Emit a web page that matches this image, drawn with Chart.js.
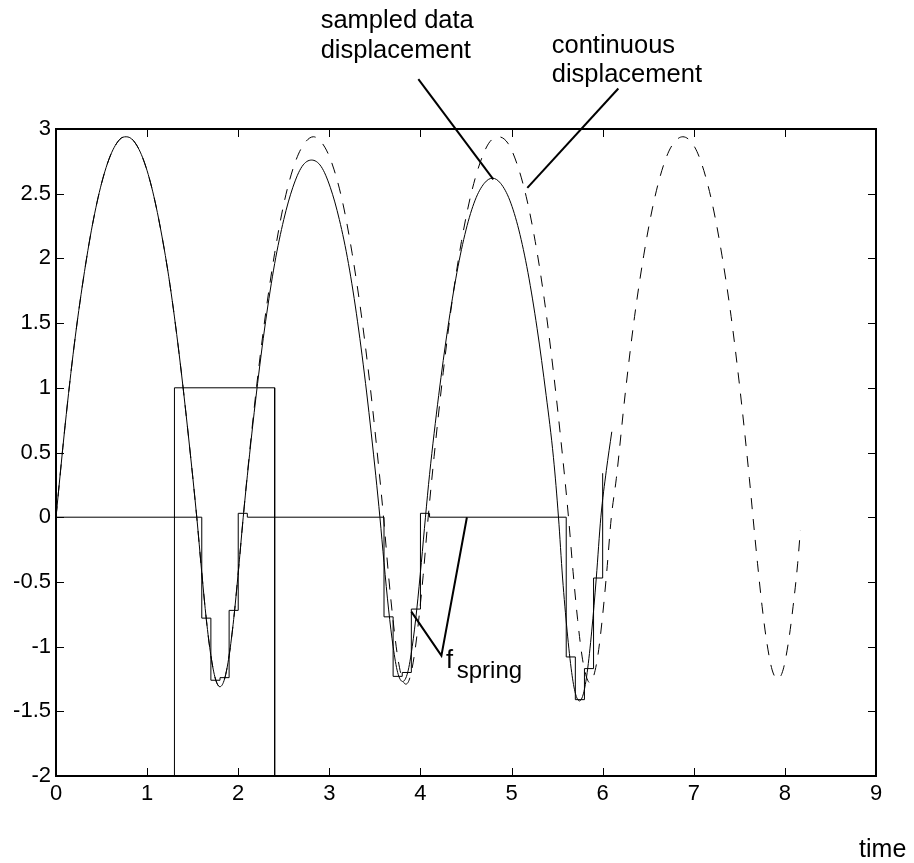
<!DOCTYPE html>
<html>
<head>
<meta charset="utf-8">
<script src="https://cdn.jsdelivr.net/npm/chart.js@4.4.1/dist/chart.umd.min.js"></script>
<style>
  html, body { margin: 0; padding: 0; background: #fff; }
  #wrap { width: 914px; height: 863px; }
</style>
</head>
<body>
<div id="wrap"><canvas id="bounce" width="914" height="863"></canvas></div>
<script>
// axis ranges
const xMin = 0, xMax = 9, xStep = 1;
const yMin = -2, yMax = 3, yStep = 0.5;

// continuous displacement (dashed)
const contT = [0, 0.1, 0.2, 0.3, 0.4, 0.5, 0.6, 0.7, 0.77, 0.85, 0.95, 1.05, 1.15, 1.25, 1.35, 1.45, 1.545,
  1.6, 1.65, 1.7, 1.75, 1.8, 1.85, 1.9, 1.95, 2.0, 2.055,
  2.1, 2.2, 2.3, 2.4, 2.5, 2.6, 2.7, 2.825, 2.95, 3.05, 3.15, 3.25, 3.35, 3.45, 3.55, 3.595,
  3.65, 3.7, 3.75, 3.8, 3.84, 3.88, 3.93, 3.98, 4.03, 4.085,
  4.15, 4.25, 4.35, 4.45, 4.55, 4.65, 4.75, 4.855, 4.96, 5.06, 5.16, 5.26, 5.36, 5.46, 5.56, 5.625,
  5.675, 5.725, 5.775, 5.82, 5.86, 5.9, 5.945, 5.995, 6.045, 6.095,
  6.15, 6.25, 6.35, 6.45, 6.55, 6.65, 6.75, 6.88, 7.01, 7.11, 7.21, 7.31, 7.41, 7.51, 7.61, 7.65,
  7.7, 7.75, 7.8, 7.86, 7.92, 7.98, 8.04, 8.09, 8.14, 8.17];
const contY = [0, 0.71, 1.33, 1.84, 2.26, 2.58, 2.80, 2.92, 2.94, 2.91, 2.78, 2.55, 2.22, 1.80, 1.27, 0.65, 0,
  -0.43, -0.79, -1.07, -1.25, -1.31, -1.25, -1.07, -0.79, -0.43, 0,
  0.33, 1.00, 1.57, 2.04, 2.42, 2.69, 2.86, 2.94, 2.86, 2.69, 2.42, 2.04, 1.57, 1.00, 0.33, 0,
  -0.45, -0.80, -1.08, -1.25, -1.29, -1.25, -1.08, -0.80, -0.45, 0,
  0.47, 1.12, 1.68, 2.13, 2.48, 2.73, 2.89, 2.94, 2.89, 2.73, 2.48, 2.13, 1.68, 1.12, 0.47, 0,
  -0.42, -0.79, -1.08, -1.23, -1.28, -1.23, -1.08, -0.79, -0.42, 0,
  0.30, 0.97, 1.55, 2.02, 2.40, 2.68, 2.86, 2.94, 2.86, 2.68, 2.40, 2.02, 1.55, 0.97, 0.30, 0,
  -0.36, -0.69, -0.96, -1.18, -1.25, -1.18, -0.96, -0.69, -0.36, -0.1];

// sampled data displacement (solid)
const sampT = [0, 0.1, 0.2, 0.3, 0.4, 0.5, 0.6, 0.7, 0.77, 0.85, 0.95, 1.05, 1.15, 1.25, 1.35, 1.45, 1.545,
  1.6, 1.65, 1.7, 1.75, 1.8, 1.85, 1.9, 1.95, 2.0, 2.055,
  2.1, 2.2, 2.3, 2.4, 2.5, 2.6, 2.7, 2.805, 2.91, 3.01, 3.11, 3.21, 3.31, 3.41, 3.51, 3.555,
  3.6, 3.65, 3.7, 3.75, 3.805, 3.86, 3.91, 3.96, 4.01, 4.055,
  4.1, 4.2, 4.3, 4.4, 4.5, 4.6, 4.7, 4.79, 4.88, 4.98, 5.08, 5.18, 5.28, 5.38, 5.46, 5.515,
  5.56, 5.61, 5.66, 5.70, 5.745, 5.79, 5.83, 5.88, 5.93, 5.98, 6.04, 6.10];
const sampY = [0, 0.71, 1.33, 1.84, 2.26, 2.58, 2.80, 2.92, 2.94, 2.91, 2.78, 2.55, 2.22, 1.80, 1.27, 0.65, 0,
  -0.43, -0.79, -1.07, -1.25, -1.31, -1.25, -1.07, -0.79, -0.43, 0,
  0.32, 0.96, 1.51, 1.96, 2.30, 2.55, 2.71, 2.76, 2.71, 2.55, 2.30, 1.96, 1.51, 0.96, 0.32, 0,
  -0.35, -0.71, -1.00, -1.20, -1.27, -1.20, -1.00, -0.71, -0.35, 0,
  0.33, 0.94, 1.46, 1.89, 2.22, 2.45, 2.58, 2.62, 2.58, 2.45, 2.22, 1.89, 1.46, 0.94, 0.46, 0,
  -0.47, -0.88, -1.20, -1.36, -1.42, -1.36, -1.20, -0.88, -0.47, 0, 0.36, 0.66];

// sampled spring force (zero-order hold, T = 0.1)
const springT = [0, 1.6, 1.7, 1.8, 1.9, 2.0, 2.1, 3.6, 3.7, 3.8, 3.9, 4.0, 4.1, 5.6, 5.7, 5.8, 5.9, 6.0];
const springF = [0, -0.78, -1.26, -1.24, -0.72, 0.03, 0, -0.77, -1.23, -1.20, -0.71, 0.03, 0, -1.08, -1.41, -1.17, -0.47, 0.34];

// rectangular pulse
const pulseT = [1.3, 1.3, 2.4, 2.4];
const pulseY = [-2, 1, 1, -2];

const xTicks = [0, 1, 2, 3, 4, 5, 6, 7, 8, 9];
const yTicks = ['-2', '-1.5', '-1', '-0.5', '0', '0.5', '1', '1.5', '2', '2.5', '3'];

const pts = (xs, ys) => xs.map((v, i) => ({ x: v, y: ys[i] }));

const FONT = '"Liberation Sans", Arial, Helvetica, sans-serif';

// box around the axes with inward ticks on all four sides
const frameBox = {
  id: 'frameBox',
  afterDatasetsDraw(chart) {
    const { ctx, chartArea: a, scales: { x, y } } = chart;
    ctx.save();
    ctx.strokeStyle = '#000';
    ctx.lineWidth = 1;
    ctx.beginPath();
    x.ticks.forEach(t => {
      if (t.value <= xMin || t.value >= xMax) return;
      const px = Math.round(x.getPixelForValue(t.value)) + 0.5;
      ctx.moveTo(px, a.bottom); ctx.lineTo(px, a.bottom - 8);
      ctx.moveTo(px, a.top); ctx.lineTo(px, a.top + 8);
    });
    y.ticks.forEach(t => {
      if (t.value <= yMin || t.value >= yMax) return;
      const py = Math.round(y.getPixelForValue(t.value)) + 0.5;
      ctx.moveTo(a.left, py); ctx.lineTo(a.left + 8, py);
      ctx.moveTo(a.right, py); ctx.lineTo(a.right - 8, py);
    });
    ctx.stroke();
    ctx.lineWidth = 2;
    ctx.strokeRect(a.left, a.top, a.right - a.left, a.bottom - a.top);
    ctx.restore();
  }
};

// text labels and leader lines, placed in data units
const callouts = {
  id: 'callouts',
  afterDraw(chart) {
    const { ctx, scales: { x, y } } = chart;
    const X = v => x.getPixelForValue(v);
    const Y = v => y.getPixelForValue(v);
    ctx.save();
    ctx.strokeStyle = '#000';
    ctx.fillStyle = '#000';
    ctx.lineWidth = 2;
    const leader = list => {
      ctx.beginPath();
      list.forEach((p, i) => i ? ctx.lineTo(X(p[0]), Y(p[1])) : ctx.moveTo(X(p[0]), Y(p[1])));
      ctx.stroke();
    };
    leader([[3.977, 3.385], [4.80, 2.61]]);
    leader([[6.172, 3.313], [5.173, 2.545]]);
    leader([[3.90, -0.73], [4.23, -1.07], [4.51, 0.0]]);

    ctx.textAlign = 'left';
    ctx.textBaseline = 'alphabetic';
    ctx.font = '25.5px ' + FONT;
    ctx.fillText('sampled data', X(2.905), Y(3.777));
    ctx.fillText('displacement', X(2.905), Y(3.545));
    ctx.fillText('continuous', X(5.441), Y(3.588));
    ctx.fillText('displacement', X(5.441), Y(3.364));
    ctx.fillText('f', X(4.281), Y(-1.169));
    ctx.font = '24px ' + FONT;
    ctx.fillText('spring', X(4.398), Y(-1.244));
    ctx.font = '25px ' + FONT;
    ctx.fillText('time', X(8.814), Y(-2.625));
    ctx.restore();
  }
};

new Chart(document.getElementById('bounce'), {
  type: 'line',
  data: {
    datasets: [
      { data: pts(sampT, sampY), borderColor: '#000', borderWidth: 1, pointRadius: 0, cubicInterpolationMode: 'monotone' },
      { data: pts(springT, springF), borderColor: '#000', borderWidth: 1, pointRadius: 0, stepped: true },
      { data: pts(pulseT, pulseY), borderColor: '#000', borderWidth: 1, pointRadius: 0, tension: 0 },
      { data: pts(contT, contY), borderColor: '#000', borderWidth: 1, pointRadius: 0, borderDash: [11, 10], cubicInterpolationMode: 'monotone' }
    ]
  },
  options: {
    responsive: false,
    animation: false,
    layout: { padding: { top: 129, right: 38, left: 0, bottom: 0 } },
    plugins: { legend: { display: false }, tooltip: { enabled: false } },
    scales: {
      x: {
        type: 'linear', min: xMin, max: xMax,
        afterFit: s => { s.height = 87; },
        afterBuildTicks: s => { s.ticks = xTicks.map(v => ({ value: v })); },
        grid: { display: false, drawTicks: false },
        border: { display: false },
        ticks: { color: '#000', padding: 5, autoSkip: false, maxRotation: 0, font: { family: FONT, size: 22 },
          callback: v => String(v) }
      },
      y: {
        type: 'linear', min: yMin, max: yMax,
        afterFit: s => { s.width = 56; },
        afterBuildTicks: s => { s.ticks = yTicks.map(v => ({ value: Number(v) })); },
        grid: { display: false, drawTicks: false },
        border: { display: false },
        ticks: { color: '#000', padding: 5, autoSkip: false, font: { family: FONT, size: 22 },
          callback: v => yTicks.find(t => Number(t) === v) }
      }
    }
  },
  plugins: [frameBox, callouts]
});
</script>
</body>
</html>
